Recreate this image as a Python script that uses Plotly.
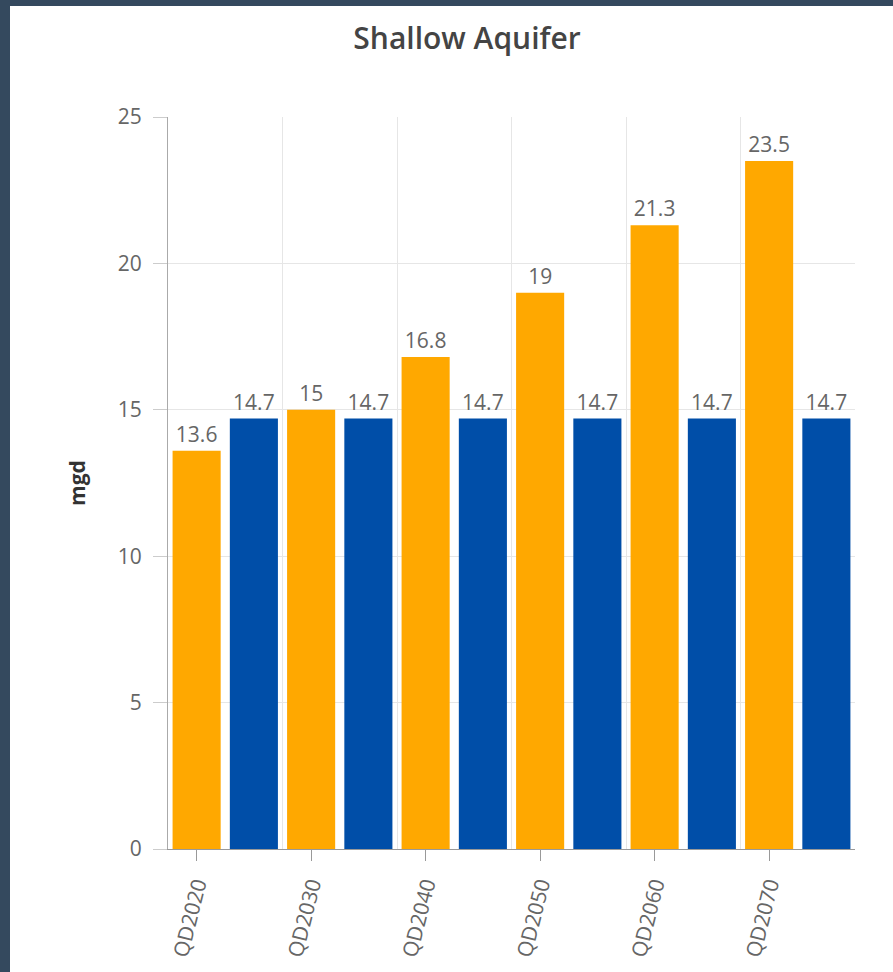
import plotly.graph_objects as go

# Projected demand vs. available supply for the shallow aquifer (mgd)
periods = ["QD2020", "QD2030", "QD2040", "QD2050", "QD2060", "QD2070"]
demand = [13.6, 15, 16.8, 19, 21.3, 23.5]
supply = [14.7, 14.7, 14.7, 14.7, 14.7, 14.7]
y_ticks = [0, 5, 10, 15, 20, 25]

ORANGE = "#FFA800"
BLUE = "#004EA8"
FRAME = "#34495E"
LABEL_FONT = dict(family="Open Sans, Noto Sans, sans-serif", size=21, color="#666666")

idx = list(range(len(periods)))

fig = go.Figure()
fig.add_trace(go.Bar(
    x=idx, y=demand, name="Demand",
    width=0.42, offset=-0.21,
    marker=dict(color=ORANGE, line=dict(width=0)),
    text=[f"{v:g}" for v in demand], textposition="outside",
    textfont=LABEL_FONT, cliponaxis=False, textangle=0,
))
fig.add_trace(go.Bar(
    x=idx, y=supply, name="Supply",
    width=0.42, offset=0.29,
    marker=dict(color=BLUE, line=dict(width=0)),
    text=[f"{v:g}" for v in supply], textposition="outside",
    textfont=LABEL_FONT, cliponaxis=False, textangle=0,
))

# white card on a dark frame
fig.add_shape(
    type="rect", xref="paper", yref="paper", layer="below",
    x0=(10 - 168) / 687, x1=1.2, y0=-0.3, y1=(849 - 6) / 732,
    fillcolor="white", line=dict(width=0),
)

fig.update_layout(
    width=893, height=972,
    margin=dict(l=168, r=38, t=117, b=123),
    paper_bgcolor=FRAME, plot_bgcolor="white",
    barmode="overlay", showlegend=False,
    title=dict(
        text="Shallow Aquifer", x=467 / 893, xanchor="center",
        y=1 - 38 / 972, yanchor="middle", xref="container", yref="container",
        font=dict(family="Open Sans, sans-serif", size=30, color="#444444", weight=600),
    ),
)
fig.update_xaxes(
    range=[-0.25, len(periods) - 0.25],
    tickmode="array", tickvals=idx, ticktext=periods,
    tickangle=-76, tickfont=LABEL_FONT,
    ticks="outside", ticklen=11, tickcolor="#999999",
    ticklabelstandoff=3,
    showgrid=False, zeroline=False,
    showline=True, linecolor="#999999", linewidth=1,
    minor=dict(tickmode="linear", tick0=-0.25, dtick=1, showgrid=True,
               gridcolor="#E6E6E6", gridwidth=1, ticks=""),
)
fig.update_yaxes(
    range=[0, 25], tickmode="array", tickvals=y_ticks,
    tickfont=LABEL_FONT, ticks="outside", ticklen=14, tickcolor="#CCCCCC",
    ticklabelstandoff=7,
    showgrid=True, gridcolor="#E6E6E6", zeroline=False,
    showline=True, linecolor="#AAAAAA", linewidth=1,
    title=dict(text="<b>mgd</b>", standoff=26,
               font=dict(family="Open Sans, sans-serif", size=21, color="#333333")),
)

fig.write_html("out.html")
